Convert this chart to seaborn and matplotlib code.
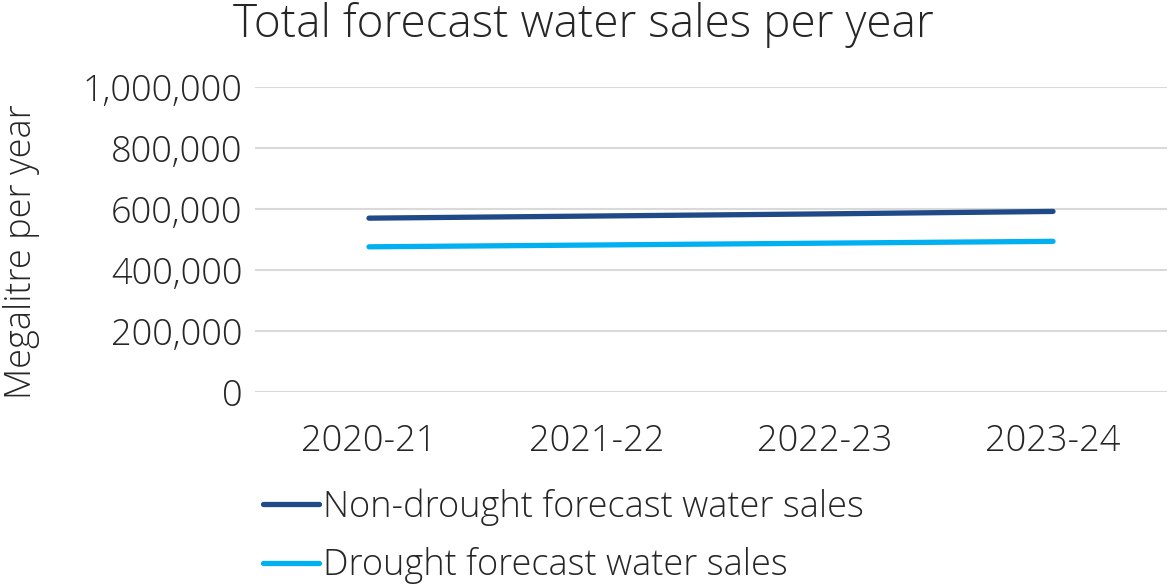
import matplotlib
matplotlib.use("Agg")
import matplotlib.pyplot as plt
import matplotlib.ticker as mticker
from matplotlib.lines import Line2D
import seaborn as sns
import pandas as pd

years = ["2020-21", "2021-22", "2022-23", "2023-24"]
non_drought = [570000, 577000, 584000, 592000]
drought = [476000, 482000, 488000, 494000]
series_names = ["Non-drought forecast water sales", "Drought forecast water sales"]
colors = ["#1F4A87", "#00B0F0"]
yticks = [0, 200000, 400000, 600000, 800000, 1000000]

df = pd.DataFrame({
    "year": years * 2,
    "value": non_drought + drought,
    "series": [series_names[0]] * len(years) + [series_names[1]] * len(years),
})

sns.set_theme(style="white")
plt.rcParams['font.family'] = ['Open Sans', 'DejaVu Sans']
plt.rcParams['font.weight'] = 'light'
text_color = "#262626"

fig = plt.figure(figsize=(11.73, 5.84), dpi=100)
ax = fig.add_axes([255/1173, 1-392/584, (1167-255)/1173, (392-87)/584])

sns.lineplot(data=df, x="year", y="value", hue="series", palette=colors,
             linewidth=3.8, ax=ax, legend=False, sort=False,
             solid_capstyle="round")

ax.set_xlim(-0.5, len(years) - 0.5)
ax.set_ylim(0, 1000000)
ax.set_yticks(yticks)
ax.yaxis.set_major_formatter(mticker.FuncFormatter(lambda v, p: f"{int(v):,}"))
ax.grid(axis="y", color="#d9d9d9", linewidth=1.5)
ax.grid(axis="x", visible=False)
ax.set_axisbelow(True)
for s in ax.spines.values():
    s.set_visible(False)
ax.tick_params(axis="both", length=0, labelsize=26, colors=text_color)
ax.tick_params(axis="y", pad=9)
ax.tick_params(axis="x", pad=22)
ax.set_xlabel("")
ax.set_ylabel("Megalitre per year", fontsize=26, color=text_color, fontweight="light")
ax.yaxis.label.set_va("center")
ax.yaxis.set_label_coords(-(255 - 22) / 912, 1 - (252 - 87) / 305)

fig.text(583/1173, 1-37/584, "Total forecast water sales per year",
         ha="center", va="baseline", fontsize=33, color=text_color)

handles = [Line2D([0], [0], color=c, linewidth=3.8, solid_capstyle="round") for c in colors]
leg = fig.legend(handles, series_names, loc="upper left",
                 bbox_to_anchor=(263/1173, 1-488/584), frameon=False,
                 fontsize=26, handlelength=1.55, handletextpad=0.12,
                 labelspacing=0.6, borderpad=0, borderaxespad=0)
for t in leg.get_texts():
    t.set_color(text_color)

fig.savefig("out.png", dpi=100)
